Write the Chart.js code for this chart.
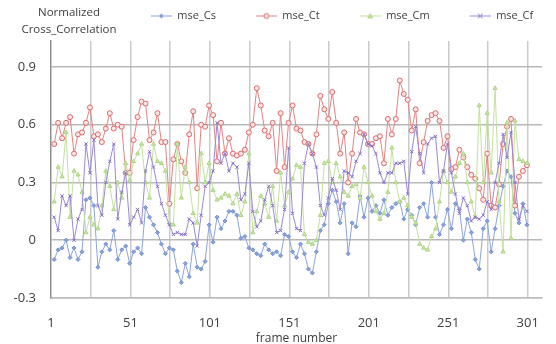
<!DOCTYPE html>
<html>
<head>
<meta charset="utf-8">
<script src="https://cdn.jsdelivr.net/npm/chart.js@4.4.1/dist/chart.umd.min.js"></script>
<style>
  html, body { margin: 0; padding: 0; background: #fff; }
  #chart { display: block; width: 556px; height: 344px; }
</style>
</head>
<body>
<canvas id="chart" width="556" height="344"></canvas>
<script>
// Normalized cross correlation per sampled frame
const seriesLabels = ['mse_Cs', 'mse_Ct', 'mse_Cm', 'mse_Cf'];
const yTitleLines = ['Normalized', 'Cross_Correlation'];
const xTitle = 'frame number';

const FIRST_FRAME = 3;
const FRAME_STEP = 2.5;

const mseCs = [
  -0.10, -0.05, -0.04, 0.00, -0.09, -0.04, -0.10, -0.06, 0.21, 0.22, 0.18, -0.14, -0.06, -0.02, -0.05, 0.05, -0.10, -0.05, -0.03, -0.12, -0.06, -0.04, -0.07,
  0.17, 0.12, 0.08, 0.04, -0.02, -0.07, -0.04, -0.05, -0.16, -0.22, -0.12, -0.19, -0.02, -0.14, -0.15, -0.11, 0.08, -0.01, 0.12, 0.06, 0.10, 0.15, 0.15, 0.13, 0.01,
  0.02, -0.04, -0.05, -0.07, -0.08, -0.02, -0.05, -0.07, -0.06, -0.08, 0.03, 0.02, -0.06, -0.09, -0.02, -0.07, -0.15, -0.17, -0.06, 0.05, 0.08, 0.19, 0.26, 0.20,
  0.09, 0.19, -0.07, 0.09, 0.07, 0.23, 0.12, 0.22, 0.15, 0.18, 0.14, 0.21, 0.13, 0.17, 0.19, 0.20, 0.11, 0.16, 0.13, 0.08, 0.17, 0.19, 0.12, 0.30,
  0.12, 0.03, 0.08, 0.16, 0.06, 0.19, 0.16, 0.00, 0.11, 0.04, -0.10, -0.15, 0.06, 0.10, -0.06, 0.06, 0.18, 0.28, 0.36, 0.33, 0.14, 0.09, 0.19, 0.08
];
const mseCt = [
  0.50, 0.61, 0.53, 0.61, 0.64, 0.45, 0.55, 0.56, 0.61, 0.69, 0.54, 0.55, 0.51, 0.58, 0.66, 0.58, 0.60, 0.59, 0.35, 0.35, 0.52, 0.64, 0.72,
  0.71, 0.52, 0.56, 0.66, 0.51, 0.51, 0.19, 0.42, 0.50, 0.41, 0.35, 0.55, 0.67, 0.27, 0.60, 0.59, 0.70, 0.65, 0.41, 0.61, 0.45, 0.53, 0.45, 0.44, 0.45,
  0.47, 0.56, 0.60, 0.79, 0.70, 0.57, 0.54, 0.61, 0.36, 0.66, 0.38, 0.61, 0.70, 0.58, 0.57, 0.51, 0.50, 0.45, 0.55, 0.75, 0.68, 0.63, 0.77, 0.61,
  0.45, 0.56, 0.30, 0.45, 0.63, 0.56, 0.55, 0.50, 0.50, 0.53, 0.54, 0.40, 0.63, 0.55, 0.63, 0.83, 0.76, 0.73, 0.57, 0.68, 0.40, 0.51, 0.62, 0.65,
  0.66, 0.62, 0.48, 0.54, 0.37, 0.38, 0.47, 0.43, 0.38, 0.34, 0.32, 0.27, 0.21, 0.45, 0.18, 0.17, 0.29, 0.50, 0.59, 0.63, 0.18, 0.33, 0.36, 0.39
];
const mseCm = [
  0.20, 0.38, 0.33, 0.56, 0.12, 0.36, 0.34, 0.25, 0.04, 0.12, 0.08, 0.06, 0.18, 0.36, 0.28, 0.16, 0.30, 0.22, 0.40, 0.31, 0.41, 0.45, 0.50,
  0.30, 0.22, 0.50, 0.41, 0.40, 0.36, 0.09, 0.08, 0.50, 0.22, 0.38, 0.30, 0.14, 0.09, 0.45, 0.30, 0.40, 0.26, 0.21, 0.22, 0.24, 0.23, 0.19, 0.24,
  0.13, 0.20, 0.45, 0.04, 0.15, 0.23, 0.19, 0.12, 0.28, 0.10, 0.35, 0.18, 0.25, 0.32, 0.39, 0.38, 0.03, -0.01, -0.02, 0.00, 0.13, 0.40, 0.41, 0.30,
  0.40, 0.33, 0.25, 0.23, 0.28, 0.29, 0.22, 0.38, 0.30, 0.23, 0.15, 0.11, 0.14, 0.25, 0.48, 0.30, 0.20, 0.22, 0.18, 0.12, 0.09, -0.02, -0.04, -0.05,
  0.02, 0.06, 0.20, 0.36, 0.30, 0.25, 0.33, 0.40, 0.45, 0.30, 0.20, 0.12, 0.70, 0.30, 0.66, 0.35, 0.79, 0.20, -0.06, 0.61, 0.01, 0.62, 0.42, 0.41, 0.40
];
const mseCf = [
  0.12, 0.05, 0.23, 0.18, 0.23, 0.00, 0.11, 0.16, 0.50, 0.35, 0.52, 0.18, 0.13, 0.30, 0.41, 0.50, 0.11, 0.25, 0.35, 0.08, 0.12, 0.16, 0.09,
  0.36, 0.46, 0.38, 0.28, 0.19, 0.13, 0.08, 0.03, 0.04, 0.03, 0.03, 0.11, 0.09, -0.03, 0.13, 0.28, 0.30, 0.36, 0.61, 0.40, 0.45, 0.36, 0.40, 0.38,
  0.21, 0.24, 0.40, 0.15, 0.07, 0.10, 0.21, 0.28, 0.18, 0.04, 0.05, 0.16, 0.48, 0.14, 0.06, 0.05, 0.40, 0.50, 0.45, 0.38, 0.18, 0.13, 0.22, 0.32,
  0.26, 0.16, 0.36, 0.35, 0.33, 0.41, 0.45, 0.55, 0.50, 0.49, 0.45, 0.35, 0.30, 0.35, 0.35, 0.40, 0.40, 0.41, 0.24, 0.46, 0.59, 0.45, 0.35, 0.50,
  0.53, 0.54, 0.30, 0.36, 0.50, 0.35, 0.24, 0.14, 0.22, 0.18, 0.10, 0.12, 0.11, 0.13, 0.20, 0.16, 0.30, 0.40, 0.55, 0.43, 0.56, 0.30, 0.11, 0.18, 0.15
];

const frames = mseCs.map((_, i) => FIRST_FRAME + i * FRAME_STEP);
const gridFrames = [1, 26, 51, 76, 101, 126, 151, 176, 201, 226, 251, 276, 301];
const labelFrames = [1, 51, 101, 151, 201, 251, 301];
const yTicks = [-0.3, 0, 0.3, 0.6, 0.9];

const styles = [
  { line: '#8ba4da', mark: '#7290cf', fill: '#8ba4da', shape: 'rectRot', r: 2 },
  { line: '#e48282', mark: '#da6a6a', fill: '#fbe6e6', shape: 'circle', r: 2.5 },
  { line: '#c3e0a0', mark: '#acd482', fill: '#cfe7b2', shape: 'triangle', r: 2.4 },
  { line: '#9c88d3', mark: '#846cc6', fill: '#9c88d3', shape: 'crossRot', r: 2.3 }
];

const LEGEND_BOX = 59;     // transparent lead + 21px sample
const LEGEND_SHIFT = 45;
const LEGEND_LIFT = 10;
const TEXT = '#404040';

Chart.defaults.font.family = '"Open Sans", sans-serif';

function drawMark(g, st, x, y) {
  const r = st.r;
  g.strokeStyle = st.mark;
  g.fillStyle = st.fill;
  g.lineWidth = 1;
  g.beginPath();
  if (st.shape === 'circle') {
    g.arc(x, y, r, 0, Math.PI * 2);
  } else if (st.shape === 'rectRot') {
    g.moveTo(x, y - r); g.lineTo(x + r, y); g.lineTo(x, y + r); g.lineTo(x - r, y); g.closePath();
  } else if (st.shape === 'triangle') {
    g.moveTo(x, y - r); g.lineTo(x + r, y + r * 0.8); g.lineTo(x - r, y + r * 0.8); g.closePath();
  } else {
    g.moveTo(x - r, y - r); g.lineTo(x + r, y + r);
    g.moveTo(x + r, y - r); g.lineTo(x - r, y + r);
  }
  if (st.shape !== 'crossRot') g.fill();
  g.stroke();
}

// legend sample: line with marker, drawn at the right end of a wider box
function legendIcon(st) {
  const c = document.createElement('canvas');
  c.width = LEGEND_BOX;
  c.height = 12;
  const g = c.getContext('2d');
  const x0 = LEGEND_BOX - 21;
  g.strokeStyle = st.line;
  g.lineWidth = 1;
  g.beginPath(); g.moveTo(x0, 6.5); g.lineTo(LEGEND_BOX, 6.5); g.stroke();
  drawMark(g, st, x0 + 10.5, 6.5);
  return c;
}
const icons = styles.map(legendIcon);

const excelBits = {
  id: 'excelBits',
  afterLayout(chart) {
    const lg = chart.legend;
    lg.left += LEGEND_SHIFT;
    lg.right += LEGEND_SHIFT;
    lg.top -= LEGEND_LIFT;
    lg.bottom -= LEGEND_LIFT;
  },
  afterDraw(chart) {
    const ctx = chart.ctx;
    ctx.save();
    ctx.font = '11.5px "Open Sans", sans-serif';
    ctx.fillStyle = TEXT;
    ctx.textAlign = 'center';
    ctx.textBaseline = 'middle';
    ctx.fillText(yTitleLines[0], 69, 13);
    ctx.fillText(yTitleLines[1], 69, 30);
    ctx.restore();
  }
};

const seriesValues = [mseCs, mseCt, mseCm, mseCf];

new Chart(document.getElementById('chart'), {
  type: 'line',
  data: {
    datasets: seriesValues.map((vals, i) => ({
      label: seriesLabels[i],
      data: vals.map((v, k) => ({ x: frames[k], y: v })),
      borderColor: styles[i].line,
      borderWidth: 1,
      tension: 0,
      pointStyle: styles[i].shape,
      pointRadius: styles[i].r,
      pointBorderWidth: 1,
      pointBorderColor: styles[i].mark,
      pointBackgroundColor: styles[i].fill,
      order: 4 - i
    }))
  },
  options: {
    responsive: false,
    devicePixelRatio: 1,
    animation: false,
    layout: { padding: { top: 18, left: 0, right: 0, bottom: 0 } },
    plugins: {
      tooltip: { enabled: false },
      legend: {
        position: 'top',
        labels: {
          usePointStyle: true,
          pointStyleWidth: LEGEND_BOX,
          padding: 2,
          color: TEXT,
          font: { size: 11 },
          generateLabels: chart => chart.data.datasets.map((ds, i) => ({
            text: ds.label,
            pointStyle: icons[i],
            fillStyle: 'rgba(0,0,0,0)',
            strokeStyle: 'rgba(0,0,0,0)',
            lineWidth: 0,
            fontColor: TEXT,
            hidden: !chart.isDatasetVisible(i),
            datasetIndex: i
          }))
        }
      }
    },
    scales: {
      x: {
        type: 'linear',
        min: 1,
        max: 310,
        afterBuildTicks: s => { s.ticks = gridFrames.map(v => ({ value: v })); },
        afterFit: s => { s.height = 46; },
        grid: {
          color: c => (c.tick && c.tick.value === 1) ? 'rgba(0,0,0,0)' : '#cacaca',
          lineWidth: 1.5,
          drawTicks: false
        },
        border: { display: true, color: '#bdbdbd', width: 1.5 },
        ticks: {
          autoSkip: false,
          maxRotation: 0,
          padding: 17,
          color: TEXT,
          font: { size: 13 },
          callback: v => labelFrames.includes(v) ? String(v) : ''
        },
        title: {
          display: true,
          text: xTitle,
          color: TEXT,
          font: { size: 12 },
          padding: { top: 0, bottom: -2 }
        }
      },
      y: {
        min: -0.3,
        max: 1.035,
        afterBuildTicks: s => { s.ticks = yTicks.map(v => ({ value: v })); },
        afterFit: s => { s.width = 51; },
        grid: { color: '#b8b8b8', lineWidth: 1.5, drawTicks: false },
        border: { display: true, color: '#8e8e8e', width: 1.5 },
        ticks: {
          padding: 15,
          color: TEXT,
          font: { size: 13 },
          callback: v => (Math.abs(v) < 1e-9 ? '0' : v.toFixed(1))
        }
      }
    }
  },
  plugins: [excelBits]
});
</script>
</body>
</html>
